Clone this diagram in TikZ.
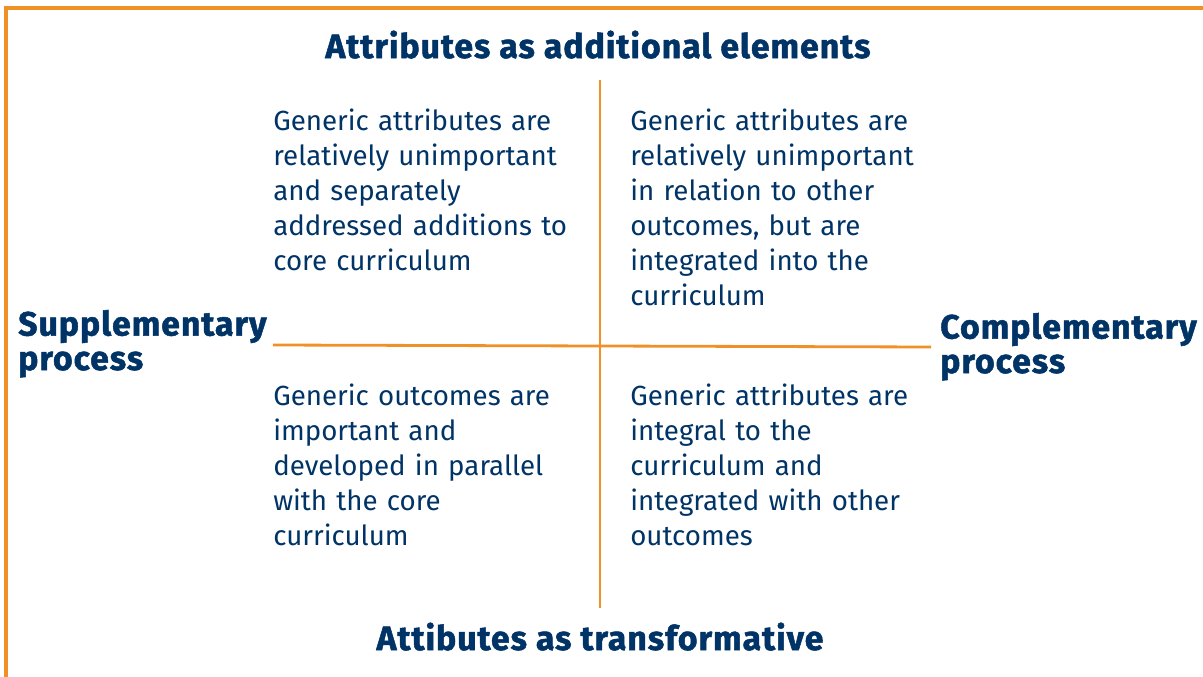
\documentclass[tikz,border=0pt]{standalone}
\usepackage{fontspec}
\setmainfont{Fira Sans}
\newfontfamily\headfont[BoldFeatures={FakeBold=1.5}, LetterSpace=3]{Fira Sans}
\definecolor{quadblue}{RGB}{0,51,102}
\definecolor{quadorange}{RGB}{240,145,40}
\tikzset{
  quadtext/.style={anchor=base west, inner sep=0pt, text width=8.5cm, align=left,
    text=quadblue, font=\fontsize{19.7}{24.9}\selectfont},
  headtext/.style={inner sep=0pt, text=quadblue, font=\headfont\bfseries\fontsize{24}{24.5}\selectfont},
  axisline/.style={quadorange, line width=0.07cm}
}
\begin{document}
\begin{tikzpicture}[x=0.025cm, y=-0.025cm]
\useasboundingbox (0,0) rectangle (1203,677);
\draw[quadorange, line width=0.075cm] (6,677) -- (6,8) -- (1203,8);
% axes
\coordinate (vtop) at (600,80);
\coordinate (vbot) at (600,608);
\coordinate (hleft) at (273,345);
\coordinate (hright) at (931,347);
\draw[axisline] (vtop) -- (vbot);
\draw[axisline] (hleft) -- (hright);
% axis labels
\node[headtext, anchor=base] (top) at (598,58) {Attributes as additional elements};
\node[headtext, anchor=base] (bottom) at (600,650) {Attibutes as transformative};
\node[headtext, anchor=base west, align=left] (left) at (18,370) {Supplementary\\process};
\node[headtext, anchor=base west, align=left] (right) at (940,373) {Complementary\\process};
% quadrants
\node[quadtext] (tl) at (273,130) {Generic attributes are\\relatively unimportant\\and separately\\addressed additions to\\core curriculum};
\node[quadtext] (tr) at (630,130) {Generic attributes are\\relatively unimportant\\in relation to other\\outcomes, but are\\integrated into the\\curriculum};
\node[quadtext] (bl) at (273,405) {Generic outcomes are\\important and\\developed in parallel\\with the core\\curriculum};
\node[quadtext] (br) at (630,405) {Generic attributes are\\integral to the\\curriculum and\\integrated with other\\outcomes};
\end{tikzpicture}
\end{document}
